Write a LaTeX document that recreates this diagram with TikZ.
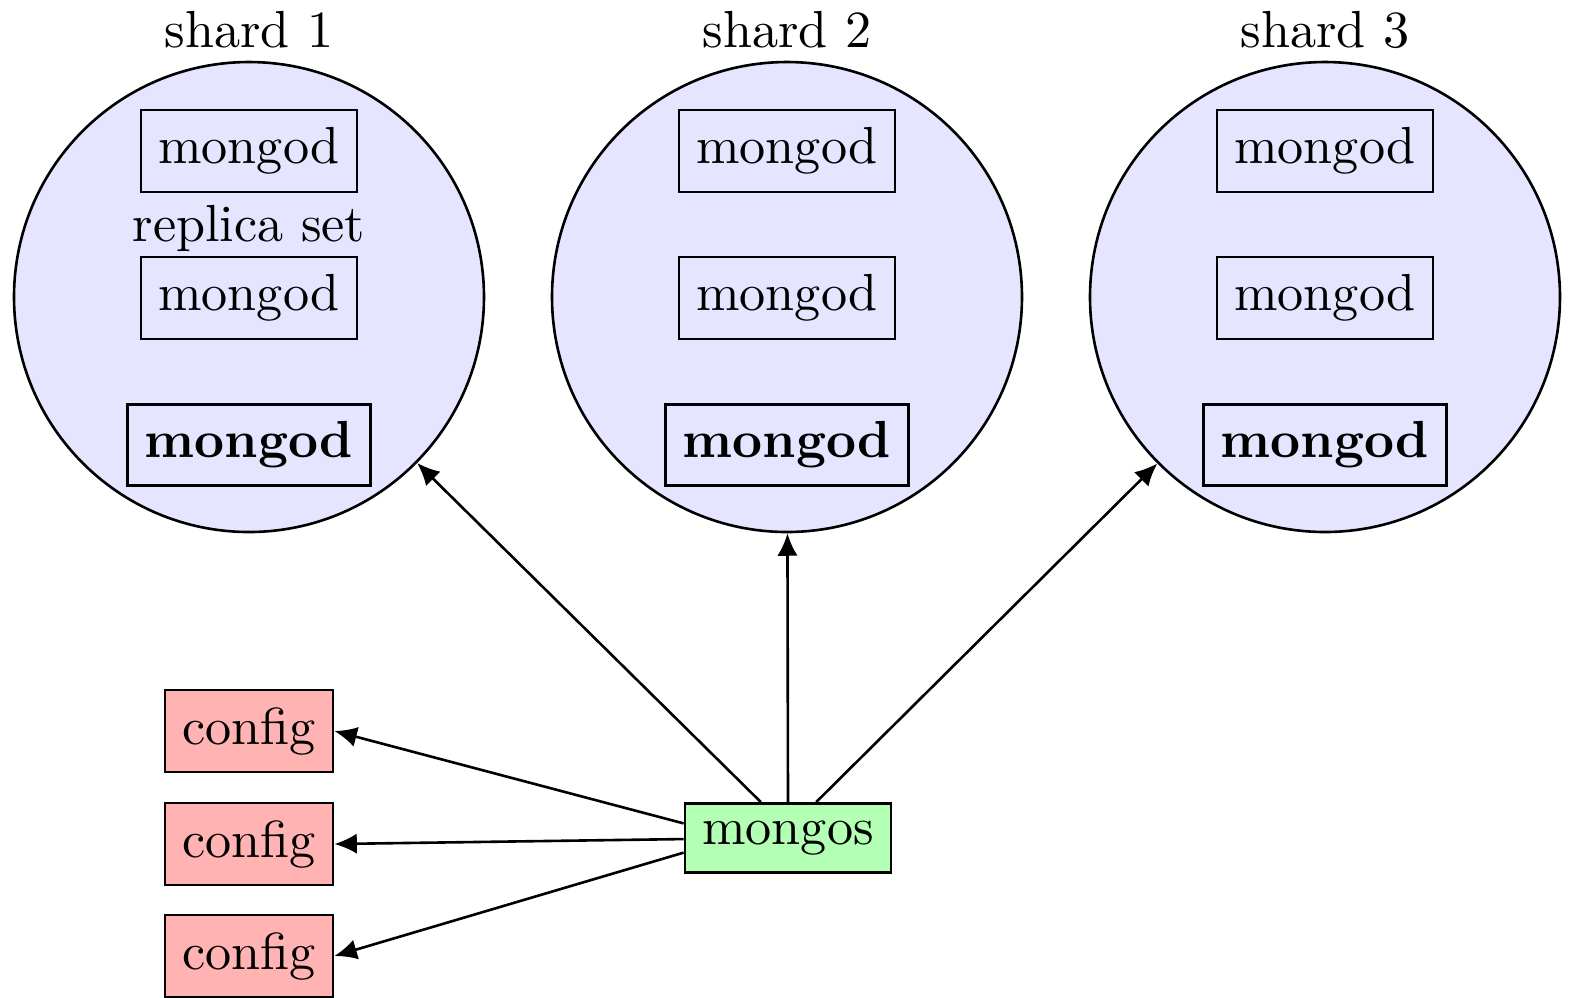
\documentclass[tikz,border=0pt]{standalone}
\usetikzlibrary{arrows.meta}
\definecolor{shardfill}{RGB}{229,229,255}
\definecolor{configfill}{RGB}{255,179,179}
\definecolor{mongosfill}{RGB}{179,255,179}
\begin{document}
\begin{tikzpicture}[x=0.1916pt,y=-0.1916pt,line width=0.5pt,
  shardnode/.style={circle,draw,fill=shardfill,minimum size=90.05pt,inner sep=0pt},
  mongodbox/.style={draw,rectangle},
  configbox/.style={draw,rectangle,fill=configfill},
  mongosbox/.style={draw,rectangle,fill=mongosfill},
  conn/.style={-{Latex[length=4.3pt,width=3.9pt]}}]
\useasboundingbox (0,0) rectangle (1572,997);
\foreach \i/\x in {1/249,2/787,3/1325}{
  \node[shardnode] (s\i) at (\x,297) {};
  \node (lab\i) at (\x,30) {shard \i};
  \node[mongodbox] (m\i a) at (\x,151) {mongod};
  \node[mongodbox] (m\i b) at (\x,298) {mongod};
  \node[mongodbox] (m\i c) at (\x,445) {\bfseries mongod};
}
\node (rs) at (249,228) {replica set};
\node[configbox] (c1) at (249,731) {config};
\node[configbox] (c2) at (249,844) {config};
\node[configbox] (c3) at (249,956) {config};
\node[mongosbox] (ms) at (788,838) {mongos};
\draw[conn] ([xshift=-5.2pt]ms.north) -- (s1);
\draw[conn] (ms.north) -- (s2);
\draw[conn] ([xshift=5.4pt]ms.north) -- (s3);
\draw[conn] ([yshift=2.8pt]ms.west) -- (c1.east);
\draw[conn] ([yshift=-0.2pt]ms.west) -- (c2.east);
\draw[conn] ([yshift=-2.8pt]ms.west) -- (c3.east);
\end{tikzpicture}
\end{document}
